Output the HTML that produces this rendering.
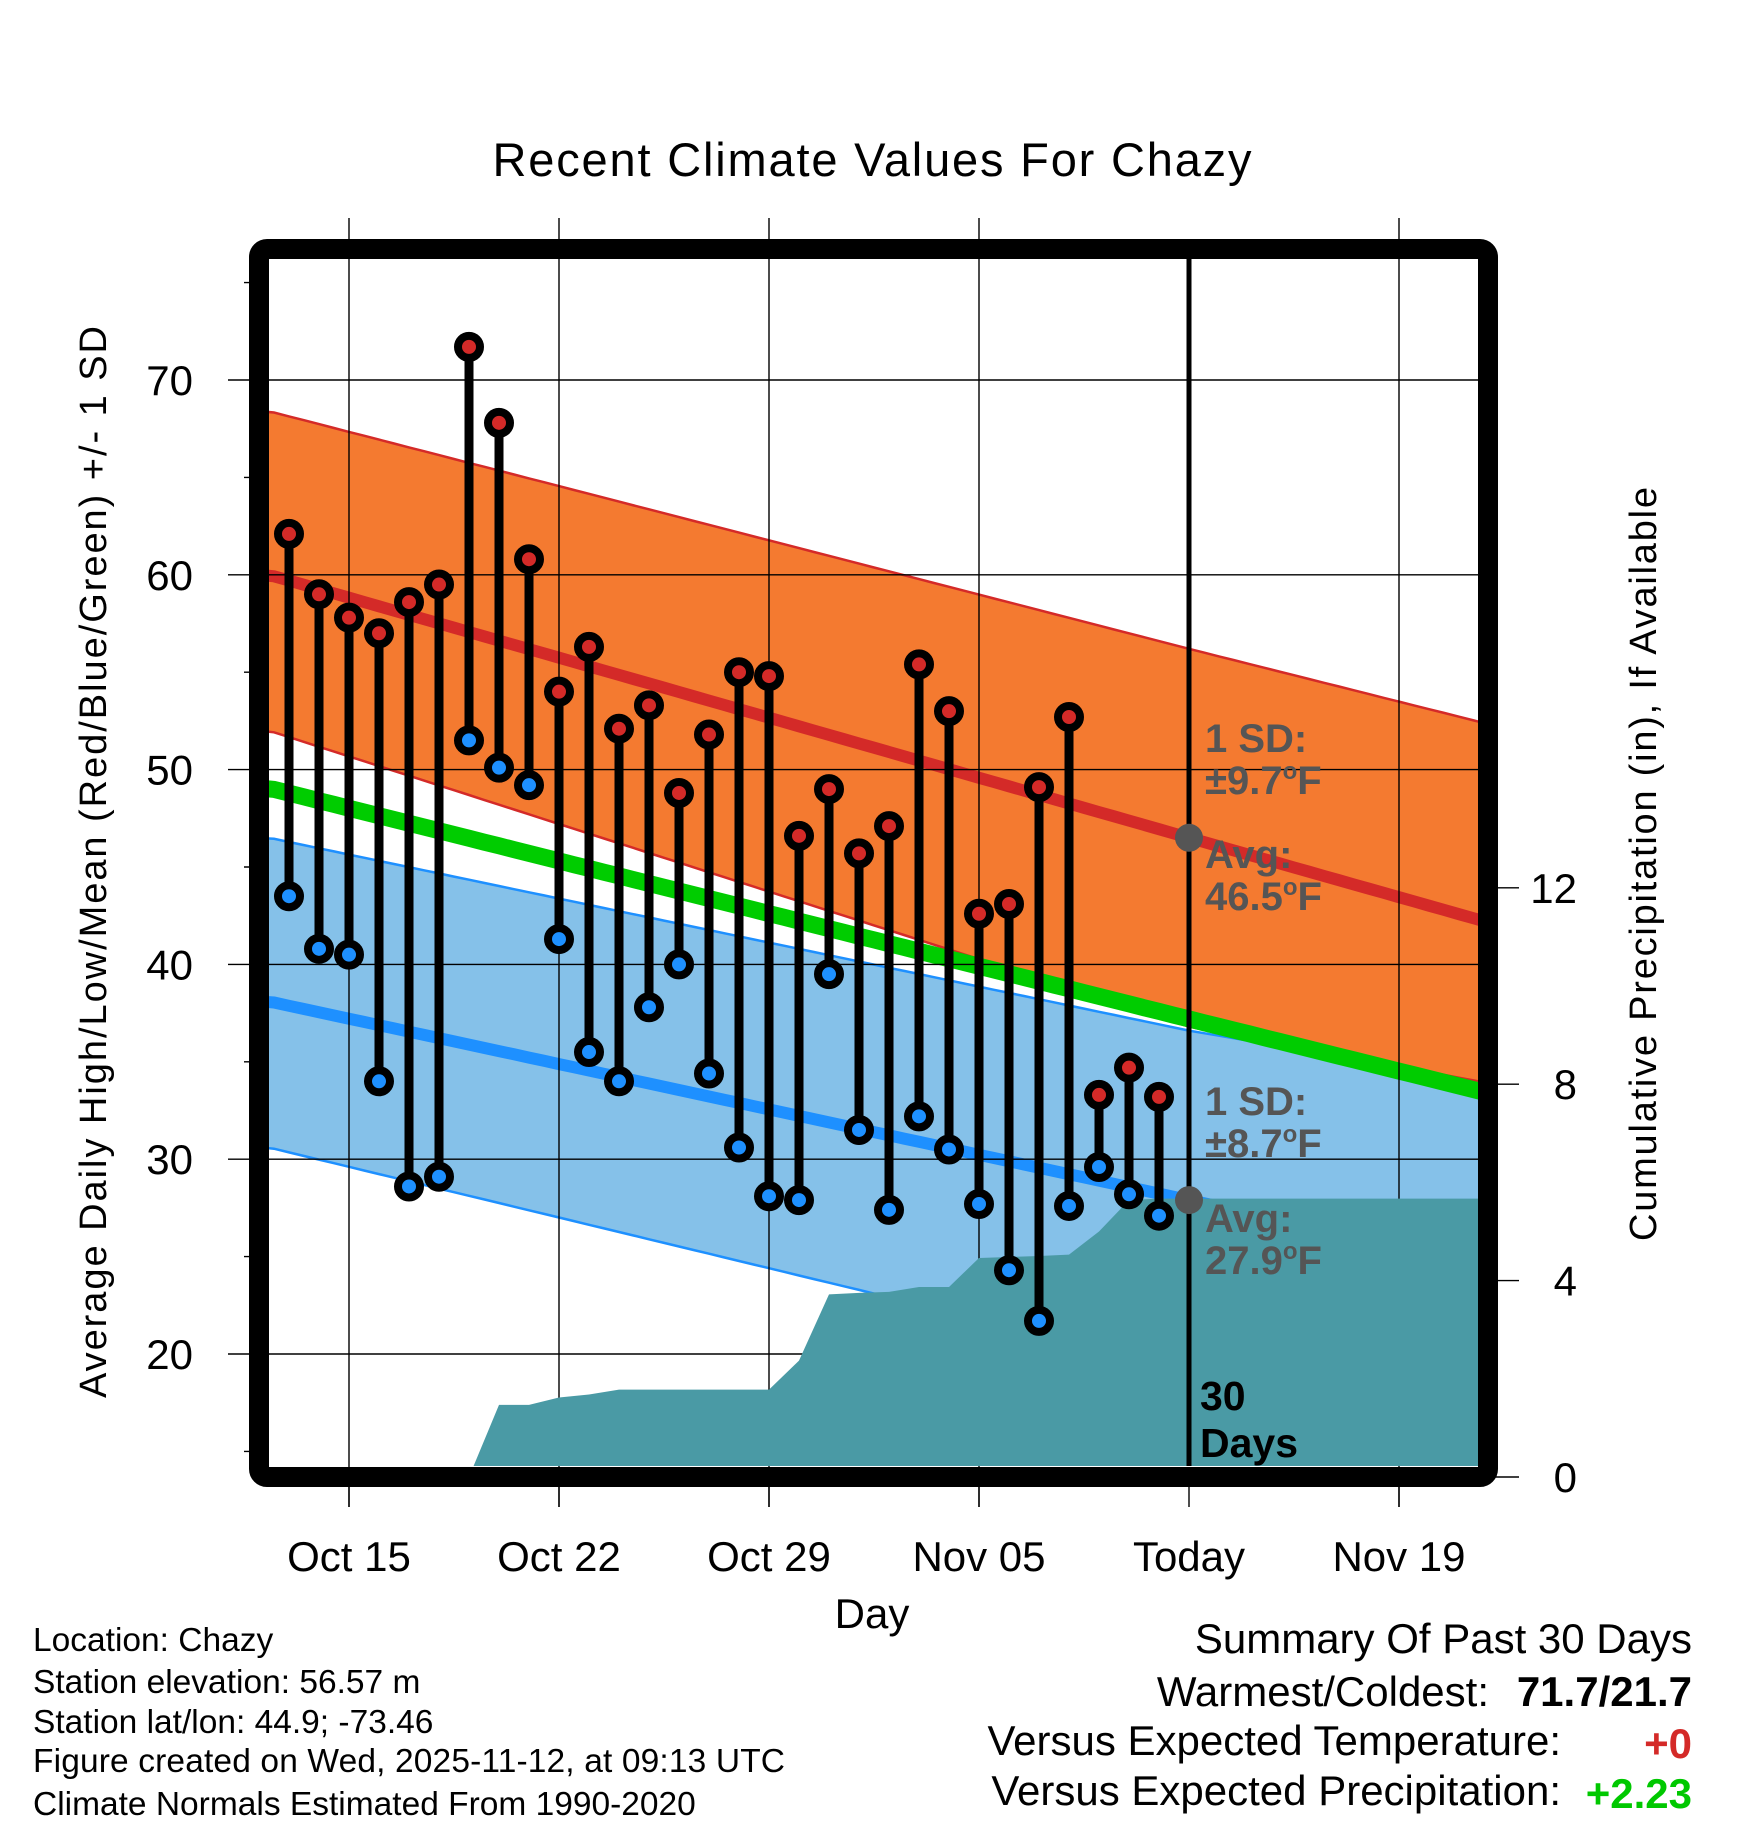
<!DOCTYPE html>
<html><head><meta charset="utf-8"><style>
html,body{margin:0;padding:0;background:#fff;}
svg{display:block;font-family:"Liberation Sans",sans-serif;}
</style></head><body>
<svg id="chart" width="1748" height="1828" viewBox="0 0 1748 1828">
<defs><clipPath id="plotclip"><rect x="269" y="259" width="1209" height="1207"/></clipPath></defs>
<g id="plot" clip-path="url(#plotclip)"></g>
<g id="over"></g>
</svg>
<script>
// ---- data ----
const obsDays = ["Oct 13","Oct 14","Oct 15","Oct 16","Oct 17","Oct 18","Oct 19","Oct 20","Oct 21","Oct 22","Oct 23","Oct 24","Oct 25","Oct 26","Oct 27","Oct 28","Oct 29","Oct 30","Oct 31","Nov 01","Nov 02","Nov 03","Nov 04","Nov 05","Nov 06","Nov 07","Nov 08","Nov 09","Nov 10","Nov 11"];
const obsOffset = [-2,-1,0,1,2,3,4,5,6,7,8,9,10,11,12,13,14,15,16,17,18,19,20,21,22,23,24,25,26,27];
const highs = [62.1,59.0,57.8,57.0,58.6,59.5,71.7,67.8,60.8,54.0,56.3,52.1,53.3,48.8,51.8,55.0,54.8,46.6,49.0,45.7,47.1,55.4,53.0,42.6,43.1,49.1,52.7,33.3,34.7,33.2];
const lows = [43.5,40.8,40.5,34.0,28.6,29.1,51.5,50.1,49.2,41.3,35.5,34.0,37.8,40.0,34.4,30.6,28.1,27.9,39.5,31.5,27.4,32.2,30.5,27.7,24.3,21.7,27.6,29.6,28.2,27.1];
const precip = [0,0,0,0,0,0,0,1.47,1.47,1.62,1.68,1.78,1.78,1.78,1.78,1.78,1.78,2.37,3.72,3.75,3.77,3.87,3.87,4.46,4.48,4.50,4.53,5.00,5.64,5.67];
const normDays = [-2.67, 28, 38.33];
const highMean = [60.0, 46.5, 42.0];
const highSDUp = [8.4, 9.7, 10.2];
const highSDDown = [8.0, 9.7, 8.2];
const lowMean = [38.1, 27.9, 24.5];
const lowSDUp = [8.4, 8.7, 9.4];
const lowSDDown = [7.5, 8.7, 9.0];
const xTickOffsets = [0,7,14,21,28,35];
const xTickLabels = ["Oct 15","Oct 22","Oct 29","Nov 05","Today","Nov 19"];
const yTicks = [20,30,40,50,60,70];
const yMinor = [15,25,35,45,55,65,75];
const pTicks = [0,4,8,12];

// ---- axes ----
const X = d => 349 + 30*d;
const Y = t => 380 + (70 - t)*19.48;
const P = p => 1477 - p*49.1;
const NS = "http://www.w3.org/2000/svg";
const plot = document.getElementById('plot');
const over = document.getElementById('over');
function mk(tag, attrs, parent, txt){
  const e = document.createElementNS(NS, tag);
  for (const k in attrs) e.setAttribute(k, attrs[k]);
  if (txt !== undefined) e.textContent = txt;
  parent.appendChild(e); return e;
}
const interp = arr => d => {
  if (d <= normDays[0]) return arr[0];
  for (let i=1;i<normDays.length;i++){ if (d<=normDays[i]){ const f=(d-normDays[i-1])/(normDays[i]-normDays[i-1]); return arr[i-1]+f*(arr[i]-arr[i-1]); } }
  return arr[arr.length-1];
};
const hm=interp(highMean), hsu=interp(highSDUp), hsd=interp(highSDDown), lm=interp(lowMean), lsu=interp(lowSDUp), lsd=interp(lowSDDown);
const samp=[]; for(let d=-3; d<=39; d+=0.5) samp.push(d);
function line(f){ return samp.map(d=>X(d).toFixed(1)+","+Y(f(d)).toFixed(1)).join(" "); }
function band(fu,fl){ return samp.map(d=>X(d).toFixed(1)+","+Y(fu(d)).toFixed(1)).concat(samp.slice().reverse().map(d=>X(d).toFixed(1)+","+Y(fl(d)).toFixed(1))).join(" "); }

let e;
e = mk('polygon',{points:band(d=>lm(d)+lsu(d),d=>lm(d)-lsd(d)),fill:'#85c1e9',stroke:'none'},plot);
 
e = mk('polyline',{points:line(d=>lm(d)+lsu(d)),fill:'none',stroke:'#1e90ff','stroke-width':2.5},plot);
 
e = mk('polyline',{points:line(d=>lm(d)-lsd(d)),fill:'none',stroke:'#1e90ff','stroke-width':2.5},plot);
 
e = mk('polygon',{points:band(d=>hm(d)+hsu(d),d=>hm(d)-hsd(d)),fill:'#f47a30',stroke:'none'},plot);
 
e = mk('polyline',{points:line(d=>hm(d)+hsu(d)),fill:'none',stroke:'#d42a28','stroke-width':2.5},plot);
 
e = mk('polyline',{points:line(d=>hm(d)-hsd(d)),fill:'none',stroke:'#d42a28','stroke-width':2.5},plot);
 
e = mk('polyline',{points:line(hm),fill:'none',stroke:'#d42a28','stroke-width':12},plot);
 
e = mk('polyline',{points:line(lm),fill:'none',stroke:'#1e90ff','stroke-width':12},plot);
 
e = mk('polyline',{points:line(d=>(hm(d)+lm(d))/2),fill:'none',stroke:'#00cc00','stroke-width':17},plot);
 

// gridlines
xTickOffsets.forEach((d,i)=>{
  if (i===4) return;
  const g = mk('line',{x1:X(d),x2:X(d),y1:218,y2:1507,stroke:'#000','stroke-width':1.4},over);
   
});
yTicks.forEach(t=>{
  const g = mk('line',{x1:228,x2:1478,y1:Y(t),y2:Y(t),stroke:'#000','stroke-width':1.4},over);
   
});
yMinor.forEach(t=>{
  const g = mk('line',{x1:244,x2:262,y1:Y(t),y2:Y(t),stroke:'#000','stroke-width':1.4},over);
   
});
pTicks.forEach(p=>{
  const g = mk('line',{x1:1488,x2:1519,y1:P(p),y2:P(p),stroke:'#000','stroke-width':1.4},over);
   
  const t = mk('text',{x:1577,y:P(p)+15,'font-size':42,'text-anchor':'end',fill:'#000'},over,String(p));
   
});
// precip area
const ov = document.createElementNS(NS,'g'); ov.setAttribute('clip-path','url(#plotclip)'); over.appendChild(ov);
let pts = [X(obsOffset[0])+","+P(0)];
obsOffset.forEach((d,i)=>pts.push(X(d)+","+P(precip[i])));
pts.push("1480,"+P(precip[precip.length-1])); pts.push("1480,"+P(0));
e = mk('polygon',{points:pts.join(" "),fill:'#4a9aa5'},ov);
 
// today line
e = mk('line',{x1:X(28),x2:X(28),y1:259,y2:1466,stroke:'#000','stroke-width':5},ov);
 
e = mk('circle',{cx:X(28),cy:Y(hm(28)),r:14,fill:'#555'},ov);
 
e = mk('circle',{cx:X(28),cy:Y(lm(28)),r:14,fill:'#555'},ov);
 
// stems
obsOffset.forEach((d,i)=>{
  const s = mk('line',{x1:X(d),x2:X(d),y1:Y(highs[i]),y2:Y(lows[i]),stroke:'#000','stroke-width':9},ov);
   
});
obsOffset.forEach((d,i)=>{
  const h = mk('circle',{cx:X(d),cy:Y(highs[i]),r:11,fill:'#d42a28',stroke:'#000','stroke-width':8},ov);
   
  const l = mk('circle',{cx:X(d),cy:Y(lows[i]),r:11,fill:'#1e90ff',stroke:'#000','stroke-width':8},ov);
   
});
// x ticks & labels
xTickOffsets.forEach((d,i)=>{
  const t = mk('line',{x1:X(d),x2:X(d),y1:1480,y2:1507,stroke:'#000','stroke-width':1.4},over);
   
  const l = mk('text',{x:X(d),y:1571,'font-size':42,'text-anchor':'middle',fill:'#000'},over,xTickLabels[i]);
   
});
yTicks.forEach(t=>{
  const l = mk('text',{x:193,y:Y(t)+15,'font-size':42,'text-anchor':'end',fill:'#000'},over,String(t));
   
});
</script>
<script>
const svg=document.getElementById('chart');
svg.insertAdjacentHTML('beforeend',`
<rect x="259" y="249" width="1229" height="1228" rx="8" fill="none" stroke="#000" stroke-width="20"/>
<text x="872" y="176" font-size="47" text-anchor="middle" textLength="759">Recent Climate Values For Chazy</text>
<text transform="translate(106,862) rotate(-90)" font-size="38" text-anchor="middle" textLength="1072">Average Daily High/Low/Mean (Red/Blue/Green) +/- 1 SD</text>
<text transform="translate(1656,864) rotate(-90)" font-size="38" text-anchor="middle" textLength="754">Cumulative Precipitation (in), If Available</text>
<text x="872" y="1628" font-size="42" text-anchor="middle">Day</text>
<g font-weight="bold" font-size="40" fill="#555">
<text x="1205" y="752">1 SD:</text>
<text x="1205" y="794">±9.7<tspan font-size="24" dy="-15">o</tspan><tspan dy="15">F</tspan></text>
<text x="1205" y="868">Avg:</text>
<text x="1205" y="910">46.5<tspan font-size="24" dy="-15">o</tspan><tspan dy="15">F</tspan></text>
<text x="1205" y="1115">1 SD:</text>
<text x="1205" y="1157">±8.7<tspan font-size="24" dy="-15">o</tspan><tspan dy="15">F</tspan></text>
<text x="1205" y="1232">Avg:</text>
<text x="1205" y="1274">27.9<tspan font-size="24" dy="-15">o</tspan><tspan dy="15">F</tspan></text>
</g>
<text x="1200" y="1410" font-size="41" font-weight="bold">30</text>
<text x="1200" y="1457" font-size="41" font-weight="bold">Days</text>
<g font-size="33.5" fill="#000">
<text x="33" y="1651">Location: Chazy</text>
<text x="33" y="1693">Station elevation: 56.57 m</text>
<text x="33" y="1733">Station lat/lon: 44.9; -73.46</text>
<text x="33" y="1772" textLength="752">Figure created on Wed, 2025-11-12, at 09:13 UTC</text>
<text x="33" y="1815">Climate Normals Estimated From 1990-2020</text>
</g>
<g font-size="42" fill="#000">
<text x="1692" y="1653" text-anchor="end">Summary Of Past 30 Days</text>
<text x="1489" y="1706" text-anchor="end">Warmest/Coldest:</text>
<text x="1692" y="1706" text-anchor="end" font-weight="bold">71.7/21.7</text>
<text x="1561" y="1755" text-anchor="end">Versus Expected Temperature:</text>
<text x="1692" y="1758" text-anchor="end" font-weight="bold" fill="#d42a28">+0</text>
<text x="1561" y="1805" text-anchor="end">Versus Expected Precipitation:</text>
<text x="1692" y="1808" text-anchor="end" font-weight="bold" fill="#00c800">+2.23</text>
</g>`);
</script>
</body></html>
